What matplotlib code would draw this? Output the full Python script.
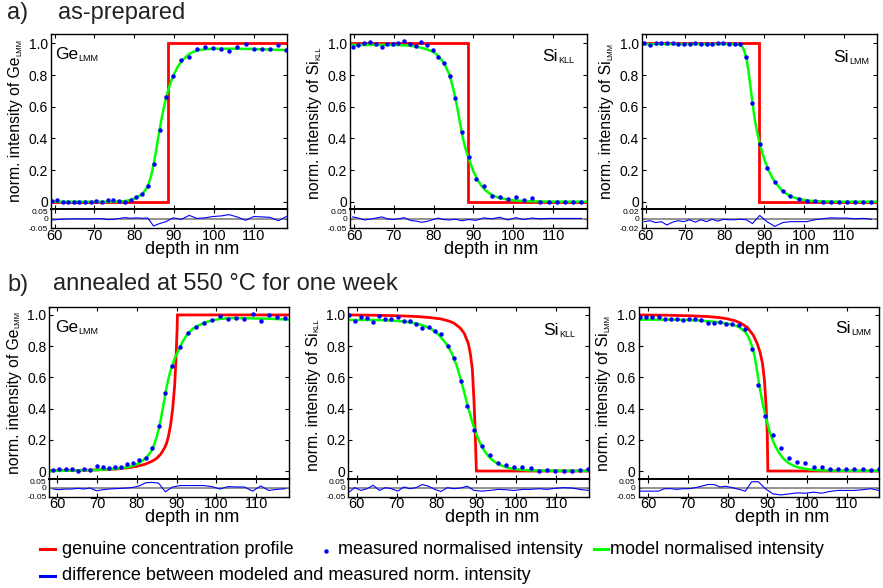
import matplotlib
matplotlib.use("Agg")
import matplotlib.pyplot as plt
from matplotlib.lines import Line2D
from matplotlib.transforms import ScaledTranslation

plt.rcParams['font.family'] = ['Liberation Sans', 'DejaVu Sans']

# ---------------- data ----------------
# a) as-prepared, Ge LMM
a_ge_x = [59.25, 60.68, 62.02, 63.45, 64.88, 66.22, 67.65, 69.08, 70.50, 71.93, 73.36, 74.79, 76.21, 77.64,
          79.07, 80.49, 81.92, 83.43, 84.86, 86.37, 87.97, 89.81, 91.83, 93.84, 95.78, 97.79, 99.81, 101.82,
          103.84, 105.85, 108.03, 110.05, 112.07, 114.08, 116.26, 118.28]
a_ge_y = [0.006, 0.008, 0.0, -0.002, 0.0, 0.0, -0.002, 0.0, 0.002, 0.0, 0.008, 0.008, 0.002, -0.002,
          0.010, 0.027, 0.048, 0.099, 0.238, 0.451, 0.659, 0.792, 0.893, 0.914, 0.962, 0.977, 0.968, 0.966,
          0.952, 0.977, 0.994, 0.962, 0.966, 0.962, 0.989, 0.956]
a_ge_res = [-0.006, -0.004, -0.002, -0.001, 0.0, 0.0, -0.001, 0.0, 0.001, 0.0, -0.004, -0.003, 0.002, 0.006,
            0.003, 0.005, 0.003, 0.004, -0.038, -0.025, -0.015, 0.005, -0.003, 0.018, 0.002, 0.005, 0.012, 0.015,
            0.022, 0.01, -0.008, 0.012, 0.01, 0.008, -0.01, 0.012]
a_ge_mx = [59, 75, 77, 79, 80.5, 82, 83, 83.5, 84, 84.5, 85, 85.5, 86, 86.5, 87, 87.5, 88, 88.5, 89, 89.5,
           90, 91, 92, 93, 94, 95, 96, 98, 100, 105, 110, 115, 118.5]
a_ge_my = [0, 0, 0.002, 0.01, 0.025, 0.048, 0.08, 0.105, 0.14, 0.19, 0.25, 0.32, 0.4, 0.47, 0.54, 0.6, 0.655,
           0.7, 0.74, 0.775, 0.805, 0.855, 0.89, 0.915, 0.935, 0.948, 0.956, 0.963, 0.966, 0.966, 0.964, 0.96, 0.957]
a_ge_px = [59, 88.6, 88.6, 118.5]
a_ge_py = [0, 0, 1, 1]

# a) as-prepared, Si KLL
a_kll_x = [59.67, 61.10, 62.61, 64.04, 65.55, 66.98, 68.40, 69.75, 71.17, 72.60, 74.11, 75.54, 76.88, 78.31,
           79.74, 81.17, 82.51, 84.02, 85.45, 87.04, 88.81, 90.65, 92.59, 94.60, 96.62, 98.63, 100.65, 102.66,
           104.68, 106.69, 108.87, 110.89, 112.90, 115.09, 117.10]
a_kll_y = [0.979, 0.989, 1.0, 1.006, 0.996, 0.979, 0.994, 0.998, 1.004, 1.013, 0.998, 0.981, 1.006, 0.989,
           0.958, 0.912, 0.878, 0.796, 0.657, 0.44, 0.28, 0.145, 0.097, 0.038, 0.029, 0.019, 0.029, 0.011,
           0.023, 0.0, 0.0, -0.002, -0.002, -0.002, -0.002]
a_kll_res = [0.01, 0.004, -0.006, -0.002, 0.004, 0.01, 0.0, -0.004, 0.0, 0.006, -0.008, -0.012, -0.018, -0.014,
             -0.005, 0.004, -0.004, -0.006, -0.002, -0.01, -0.004, -0.008, 0.005, 0.0, 0.008, -0.006, 0.006, -0.004,
             0.004, 0.0, 0.002, 0.002, 0.002, 0.002, 0.002]
a_kll_mx = [59, 70, 73, 75, 77, 78.5, 80, 81, 82, 83, 84, 84.5, 85, 85.5, 86, 86.5, 87, 87.5, 88, 88.5,
            89, 89.5, 90, 91, 92, 93, 94, 95, 96, 98, 100, 103, 108, 118.5]
a_kll_my = [0.99, 0.99, 0.987, 0.982, 0.972, 0.96, 0.945, 0.925, 0.895, 0.855, 0.8, 0.755, 0.705, 0.65, 0.585,
            0.515, 0.445, 0.385, 0.335, 0.295, 0.26, 0.225, 0.19, 0.14, 0.1, 0.072, 0.052, 0.038, 0.028, 0.016,
            0.009, 0.004, 0.001, 0.0]
a_kll_px = [59, 88.6, 88.6, 118.5]
a_kll_py = [1, 1, 0, 0]

# a) as-prepared, Si LMM
a_lmm_x = [59.67, 61.10, 62.53, 63.95, 65.38, 66.81, 68.24, 69.66, 71.09, 72.52, 73.95, 75.37, 76.80, 78.23,
           79.65, 81.08, 82.51, 83.94, 85.45, 86.96, 88.81, 90.65, 92.59, 94.60, 96.53, 98.63, 100.65, 102.66,
           104.68, 106.69, 108.79, 110.81, 112.90, 114.92, 117.02]
a_lmm_y = [1.0, 0.992, 1.002, 1.0, 1.004, 1.0, 0.994, 0.998, 0.996, 1.004, 0.996, 0.998, 0.998, 1.002,
           1.004, 0.998, 0.998, 0.996, 0.912, 0.625, 0.362, 0.211, 0.126, 0.065, 0.036, 0.015, 0.006, 0.004,
           0.0, 0.0, 0.0, 0.0, 0.0, 0.0, 0.0]
a_lmm_res = [-0.006, -0.004, -0.008, -0.006, -0.013, -0.007, -0.004, -0.006, -0.002, -0.007, -0.002, -0.006,
             -0.001, -0.005, -0.001, -0.002, -0.002, -0.001, -0.002, -0.01, 0.007, -0.006, -0.016, -0.008, -0.006,
             -0.006, -0.006, -0.002, 0.0, 0.002, 0.0015, 0.0015, 0.0, 0.001, -0.001]
a_lmm_mx = [59, 83, 84, 84.5, 85, 85.5, 86, 86.5, 87, 87.5, 88, 88.5, 89, 89.5, 90, 91, 92, 93, 94, 95,
            96, 97, 98, 100, 102, 105, 110, 118.5]
a_lmm_my = [0.995, 0.995, 0.99, 0.975, 0.945, 0.9, 0.82, 0.72, 0.62, 0.53, 0.46, 0.4, 0.35, 0.305, 0.265,
            0.2, 0.15, 0.113, 0.083, 0.06, 0.043, 0.031, 0.022, 0.011, 0.005, 0.002, 0.0, 0.0]
a_lmm_px = [59, 88.6, 88.6, 118.5]
a_lmm_py = [1, 1, 0, 0]

# b) annealed, Ge LMM
b_ge_x = [59.01, 60.51, 62.10, 63.61, 65.20, 66.71, 68.22, 69.89, 71.40, 72.99, 74.50, 76.01, 77.60, 79.11,
          80.61, 82.20, 83.71, 85.47, 87.15, 88.90, 90.83, 92.76, 94.85, 96.86, 98.87, 100.88, 102.89, 104.90,
          107.00, 109.09, 111.10, 113.11, 115.12, 117.30]
b_ge_y = [0.006, 0.013, 0.011, 0.011, 0.0, 0.013, 0.006, 0.034, 0.024, 0.021, 0.024, 0.028, 0.047, 0.051,
          0.068, 0.085, 0.145, 0.288, 0.498, 0.673, 0.793, 0.887, 0.925, 0.949, 0.97, 0.991, 0.972, 0.979,
          0.972, 1.004, 0.964, 1.0, 0.985, 0.979]
b_ge_res = [-0.006, -0.01, -0.006, -0.006, -0.002, -0.006, 0.0, -0.016, -0.01, -0.006, -0.004, -0.002, 0.0, 0.004,
            0.012, 0.03, 0.032, 0.028, -0.022, 0.005, 0.014, 0.014, 0.014, 0.014, 0.008, -0.006, 0.008, 0.006,
            0.006, -0.018, 0.012, -0.014, -0.008, -0.004]
b_ge_mx = [58, 62, 66, 70, 74, 76.6, 79, 80.5, 81.6, 82.5, 83.7, 84.5, 85, 85.5, 86, 86.5, 87, 87.5, 88, 88.5,
           89, 89.5, 90, 90.8, 91.5, 92.8, 94, 94.9, 96.9, 98.9, 100.9, 104, 109, 114, 118.3]
b_ge_my = [0.0, 0.002, 0.004, 0.007, 0.013, 0.02, 0.033, 0.05, 0.07, 0.09, 0.13, 0.18, 0.22, 0.27, 0.33, 0.4,
           0.47, 0.54, 0.6, 0.645, 0.685, 0.72, 0.75, 0.79, 0.83, 0.88, 0.91, 0.925, 0.95, 0.965, 0.975, 0.98,
           0.978, 0.975, 0.97]
b_ge_px = [58, 65, 70, 75, 78, 80, 82, 84, 85, 86, 87, 87.5, 88, 88.5, 89, 89.5, 89.8, 90.1, 90.2, 118.3]
b_ge_py = [0.002, 0.004, 0.007, 0.013, 0.022, 0.03, 0.043, 0.065, 0.082, 0.108, 0.15, 0.18, 0.23, 0.3, 0.4,
           0.55, 0.7, 0.9, 1.0, 1.0]

# b) annealed, Si KLL
b_kll_x = [58.05, 59.51, 61.10, 62.61, 64.11, 65.71, 67.21, 68.72, 70.31, 71.82, 73.33, 74.92, 76.43, 78.02,
           79.61, 81.12, 82.79, 84.38, 86.06, 87.73, 89.41, 91.42, 93.43, 95.44, 97.45, 99.46, 101.55, 103.64,
           105.66, 107.67, 109.68, 111.85, 113.86, 116.04, 118.05]
b_kll_y = [1.0, 0.962, 0.987, 0.979, 0.953, 0.991, 0.972, 0.972, 0.987, 0.962, 0.962, 0.94, 0.917, 0.921,
           0.895, 0.88, 0.799, 0.724, 0.575, 0.417, 0.261, 0.16, 0.1, 0.049, 0.038, 0.024, 0.028, 0.017,
           0.0, 0.006, 0.0, 0.0, 0.0, 0.006, 0.013]
b_kll_res = [-0.024, 0.002, -0.014, -0.004, 0.016, -0.014, 0.002, -0.004, -0.018, 0.006, -0.004, 0.002, 0.02, 0.01,
             -0.008, -0.02, 0.002, -0.004, 0.0, 0.01, -0.014, -0.018, -0.014, -0.008, -0.01, -0.014, -0.008, -0.008,
             -0.004, -0.008, -0.002, 0.002, 0.0, -0.008, -0.014]
b_kll_mx = [57.9, 64, 68, 72, 75, 77, 79, 80.5, 82, 83, 84, 85, 86, 87, 88, 89, 90, 91, 92, 93,
            94, 95, 96, 98, 100, 103, 108, 118.3]
b_kll_my = [0.968, 0.968, 0.965, 0.958, 0.945, 0.93, 0.905, 0.875, 0.83, 0.795, 0.745, 0.68, 0.595, 0.5, 0.4,
            0.31, 0.235, 0.175, 0.13, 0.095, 0.07, 0.052, 0.038, 0.02, 0.011, 0.005, 0.002, 0.001]
b_kll_px = [57.9, 65, 70, 75, 78, 81, 83, 84.4, 86, 87, 88, 88.5, 89, 89.4, 89.7, 89.9, 90.0, 118.3]
b_kll_py = [1.0, 0.998, 0.995, 0.99, 0.984, 0.975, 0.962, 0.947, 0.915, 0.88, 0.815, 0.75, 0.65, 0.45, 0.25,
            0.08, 0.0, 0.0]

# b) annealed, Si LMM
b_lmm_x = [57.95, 59.46, 61.05, 62.64, 64.15, 65.74, 67.25, 68.84, 70.34, 71.93, 73.44, 75.03, 76.54, 78.13,
           79.64, 81.23, 82.91, 84.50, 86.09, 87.76, 89.52, 91.45, 93.46, 95.47, 97.48, 99.57, 101.66, 103.67,
           105.68, 107.78, 109.79, 111.88, 113.98, 116.07, 118.08]
b_lmm_y = [0.985, 0.985, 0.987, 0.987, 0.972, 0.974, 0.976, 0.97, 0.976, 0.974, 0.968, 0.951, 0.951, 0.957,
           0.942, 0.942, 0.934, 0.908, 0.78, 0.551, 0.355, 0.233, 0.145, 0.085, 0.056, 0.049, 0.028, 0.024,
           0.013, 0.013, 0.011, 0.015, 0.013, 0.004, 0.013]
b_lmm_res = [-0.018, -0.018, -0.018, -0.018, -0.004, -0.004, -0.008, -0.004, -0.004, 0.002, 0.01, 0.02, 0.02,
             0.006, 0.01, 0.002, -0.008, -0.018, 0.036, 0.036, -0.004, -0.034, -0.04, -0.034, -0.028, -0.03,
             -0.024, -0.03, -0.02, -0.014, -0.014, -0.014, -0.01, -0.004, -0.014]
b_lmm_mx = [57.6, 65, 70, 74, 77, 80, 82, 83, 84, 84.5, 85, 85.5, 86, 86.5, 87, 87.5, 88, 88.5, 89, 89.5,
            90, 90.5, 91, 92, 93, 94, 95, 96, 97, 98, 100, 103, 108, 118.2]
b_lmm_my = [0.97, 0.97, 0.968, 0.962, 0.955, 0.945, 0.932, 0.92, 0.9, 0.89, 0.87, 0.845, 0.81, 0.77, 0.71,
            0.63, 0.55, 0.48, 0.415, 0.36, 0.31, 0.26, 0.22, 0.16, 0.115, 0.082, 0.058, 0.042, 0.03, 0.022,
            0.012, 0.005, 0.002, 0.001]
b_lmm_px = [57.6, 65, 70, 75, 78, 80, 82, 83.5, 85, 86.5, 87.5, 88.2, 88.8, 89.3, 89.7, 90.0, 90.15, 118.2]
b_lmm_py = [1.0, 0.998, 0.995, 0.99, 0.983, 0.975, 0.962, 0.945, 0.92, 0.87, 0.815, 0.76, 0.69, 0.58, 0.42,
            0.25, 0.0, 0.0]

depth_ticks = [60, 70, 80, 90, 100, 110]
int_ticks = [0, 0.2, 0.4, 0.6, 0.8, 1.0]
int_labels = ['0', '0.2', '0.4', '0.6', '0.8', '1.0']

# ---------------- figure ----------------
W, H = 883, 588
fig = plt.figure(figsize=(W / 100, H / 100), dpi=100)
RED, GREEN, BLUE = '#ff0000', '#00ff00', '#0000ff'


def ftext(x, y, s, **kw):
    # position in pixels measured from the top-left corner
    return fig.text(x / W, 1 - y / H, s, **kw)


def panel(left, right, top, mid, bottom, xlim, ylim, mx, my, res, modx, mody, profx, profy,
          elem, sub, name_x, name_y, reslim):
    ax = fig.add_axes([left / W, 1 - mid / H, (right - left) / W, (mid - top) / H])
    rax = fig.add_axes([left / W, 1 - bottom / H, (right - left) / W, (bottom - mid) / H])

    ax.plot(profx, profy, color=RED, lw=2.0, solid_joinstyle='miter')
    ax.plot(modx, mody, color=GREEN, lw=1.8)
    ax.plot(mx, my, 'o', color=BLUE, ms=3.2, mec='none')
    ax.set_xlim(xlim)
    ax.set_ylim(ylim)
    ax.set_xticks(depth_ticks)
    ax.set_yticks(int_ticks)
    ax.set_yticklabels(int_labels)
    ax.tick_params(direction='in', top=True, right=True, labelbottom=False, length=3, width=0.8,
                   labelsize=10, pad=2)

    rax.axhline(0, color='#808080', lw=1.2)
    rax.plot(mx, res, color=BLUE, lw=0.8)
    rax.set_xlim(xlim)
    rax.set_ylim(-reslim, reslim)
    rax.set_xticks(depth_ticks)
    rax.set_yticks([-reslim, 0, reslim])
    rax.set_yticklabels(['-%g' % reslim, '0', '%g' % reslim])
    rax.tick_params(axis='x', direction='in', top=True, length=3, width=0.8, labelsize=10.5, pad=0.5)
    rax.tick_params(axis='y', direction='in', right=True, length=2, width=0.8, labelsize=6, pad=2)
    # the upper residual label sits a little below the panel edge in the original
    top_lbl = rax.get_yticklabels()[-1]
    top_lbl.set_transform(top_lbl.get_transform() + ScaledTranslation(0, -1.5 / 72, fig.dpi_scale_trans))

    for a in (ax, rax):
        for s in a.spines.values():
            s.set_linewidth(1.0)
    ax.spines['bottom'].set_linewidth(1.4)
    rax.spines['top'].set_linewidth(1.4)

    # element label inside the panel
    t = ftext(name_x, name_y, elem, fontsize=12.5, ha='left', va='baseline')
    ax.annotate(sub, xy=(1, 0), xycoords=t, xytext=(0.3, -1.0), textcoords='offset points',
                fontsize=6.5, ha='left', va='bottom', annotation_clip=False)

    # y label with small subscript
    yc = (top + mid) / 2 + 8
    yl = ftext(left - 35, yc, 'norm. intensity of ' + elem, rotation=90, ha='center', va='center',
               fontsize=11.3)
    ax.annotate(sub, xy=(1, 1), xycoords=yl, xytext=(0, 0.3), textcoords='offset points', rotation=90,
                ha='right', va='bottom', fontsize=5.5, annotation_clip=False)

    ftext((left + right) / 2 + 23, bottom + 25.5, 'depth in nm', fontsize=13, ha='center', va='baseline')


top_ylim = (-0.048, 1.059)
bot_ylim = (-0.053, 1.049)

panel(50.7, 287.3, 34, 209.3, 228.3, (59, 118.5), top_ylim, a_ge_x, a_ge_y, a_ge_res, a_ge_mx, a_ge_my,
      a_ge_px, a_ge_py, 'Ge', 'LMM', 55, 59, 0.05)
panel(350, 587, 34, 209.3, 228.3, (59, 118.5), top_ylim, a_kll_x, a_kll_y, a_kll_res, a_kll_mx, a_kll_my,
      a_kll_px, a_kll_py, 'Si', 'KLL', 542, 61, 0.05)
panel(641.7, 877.3, 34, 209.3, 228.3, (59, 118.5), top_ylim, a_lmm_x, a_lmm_y, a_lmm_res, a_lmm_mx, a_lmm_my,
      a_lmm_px, a_lmm_py, 'Si', 'LMM', 833, 62, 0.02)

panel(49.3, 289.3, 307.3, 479.3, 496.7, (58.0, 118.3), bot_ylim, b_ge_x, b_ge_y, b_ge_res, b_ge_mx, b_ge_my,
      b_ge_px, b_ge_py, 'Ge', 'LMM', 55, 332, 0.05)
panel(348.3, 589.3, 307.3, 479.3, 496.7, (57.9, 118.3), bot_ylim, b_kll_x, b_kll_y, b_kll_res, b_kll_mx,
      b_kll_my, b_kll_px, b_kll_py, 'Si', 'KLL', 543, 335, 0.05)
panel(638.5, 879.3, 307.3, 479.3, 496.7, (57.6, 118.2), bot_ylim, b_lmm_x, b_lmm_y, b_lmm_res, b_lmm_mx,
      b_lmm_my, b_lmm_px, b_lmm_py, 'Si', 'LMM', 835, 333, 0.05)

# panel titles
ftext(7, 18.5, 'a)', fontsize=17, color='#222222', va='baseline')
ftext(58, 18.5, 'as-prepared', fontsize=17, color='#222222', va='baseline')
ftext(7, 290.5, 'b)', fontsize=17, color='#222222', va='baseline')
ftext(53, 290.5, 'annealed at 550 °C for one week', fontsize=17, color='#222222', va='baseline')

# legend, drawn by hand to keep the original layout
def leg_line(x0, x1, y, color):
    fig.add_artist(Line2D([x0 / W, x1 / W], [1 - y / H, 1 - y / H], transform=fig.transFigure,
                          color=color, lw=2.2))

LEG = 13
leg_line(40, 55, 549, RED)
ftext(62, 549, 'genuine concentration profile', fontsize=LEG, va='center')
fig.add_artist(Line2D([326 / W], [1 - 551 / H], transform=fig.transFigure, marker='o', ms=3.2,
                      color=BLUE, mec='none', lw=0))
ftext(338, 549, 'measured normalised intensity', fontsize=LEG, va='center')
leg_line(594, 608, 549, GREEN)
ftext(610, 549, 'model normalised intensity', fontsize=LEG, va='center')
leg_line(40, 55, 576, BLUE)
ftext(62, 576, 'difference between modeled and measured norm. intensity', fontsize=LEG, va='center')

fig.savefig('out.png', dpi=100)
